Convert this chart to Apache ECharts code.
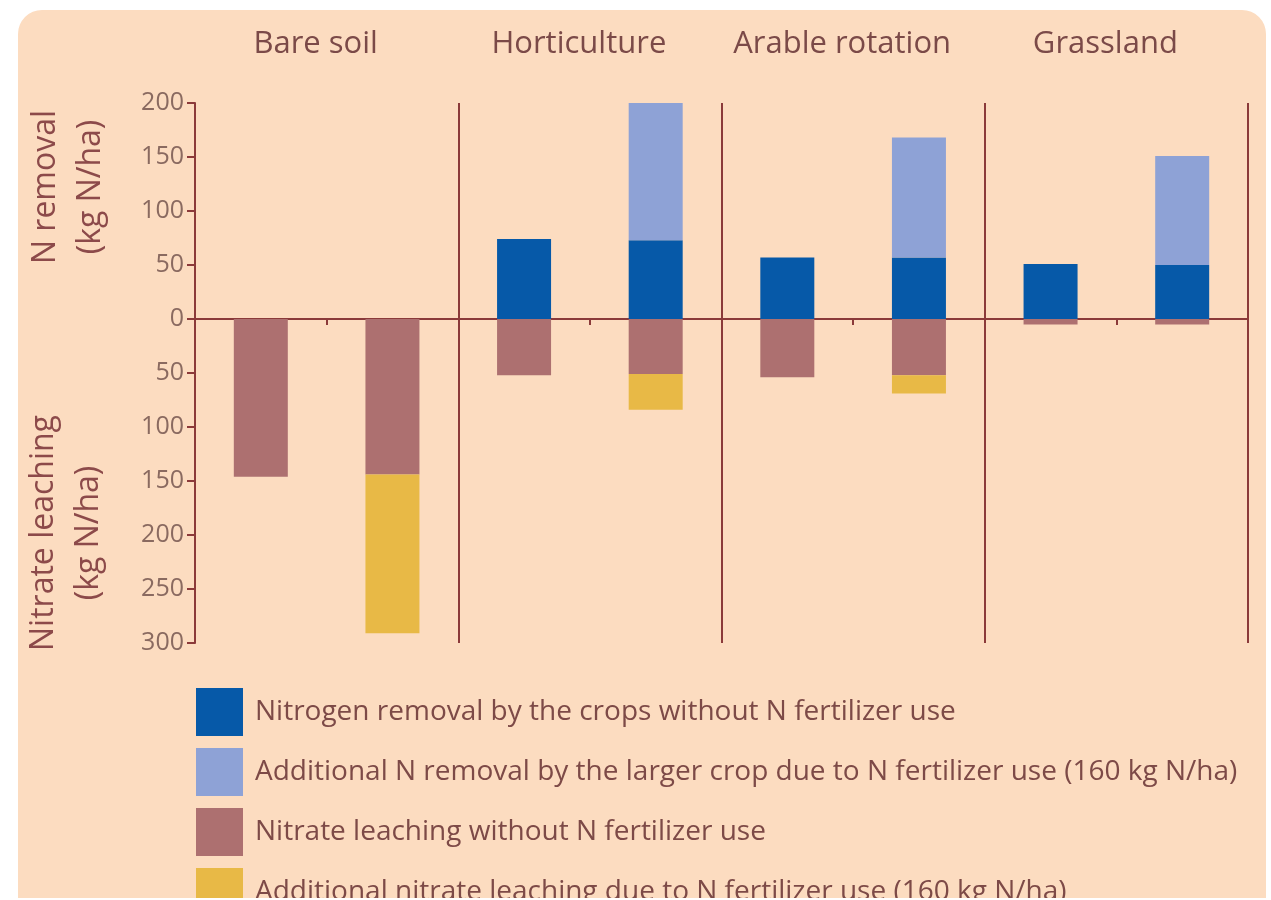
<!DOCTYPE html>
<html>
<head>
<meta charset="utf-8">
<script src="https://cdn.jsdelivr.net/npm/echarts@6/dist/echarts.min.js"></script>
<style>
  html, body { margin: 0; padding: 0; background: #ffffff; }
  #box {
    position: absolute;
    left: 18px;
    top: 10px;
    width: 1248px;
    height: 888px;
    overflow: hidden;
    border-radius: 24px 24px 0 0;
    background: #fcdcc0;
  }
  #chart { width: 1248px; height: 960px; }
</style>
</head>
<body>
<div id="box"><div id="chart"></div></div>
<script>
// 8 bars: two per land use (without / with N fertilizer)
const categories = ["bs1", "bs2", "ho1", "ho2", "ar1", "ar2", "gr1", "gr2"];
const groups = ["Bare soil", "Horticulture", "Arable rotation", "Grassland"];

// N removal (positive)
const removalBase = [0, 0, 74, 73, 57, 57, 51, 50];
const removalExtra = [0, 0, 0, 129, 0, 111, 0, 101];
// nitrate leaching (drawn downward)
const leachingBase = [-146, -144, -52, -51, -54, -52, -5, -5];
const leachingExtra = [0, -147, 0, -33, 0, -17, 0, 0];

const seriesNames = [
  "Nitrogen removal by the crops without N fertilizer use",
  "Additional N removal by the larger crop due to N fertilizer use (160 kg N/ha)",
  "Nitrate leaching without N fertilizer use",
  "Additional nitrate leaching due to N fertilizer use (160 kg N/ha)"
];
const seriesColors = ["#0659a8", "#8ea2d6", "#ad7070", "#e8b946"];

const axisColor = "#8b3a3a";
const font = "'Open Sans', sans-serif";

let chart = echarts.init(document.getElementById("chart"));

function bar(i, data) {
  return {
    name: seriesNames[i],
    type: "bar",
    stack: "all",
    stackStrategy: "samesign",
    barWidth: 54,
    itemStyle: { color: seriesColors[i] },
    data: data
  };
}

let option = {
  animation: false,
  backgroundColor: "transparent",
  textStyle: { fontFamily: font },
  grid: { left: 177, right: 18, top: 93, height: 540 },
  legend: {
    orient: "vertical",
    left: 173,
    top: 673,
    height: 280,
    itemWidth: 47,
    itemHeight: 48,
    itemGap: 12,
    icon: "rect",
    selectedMode: false,
    textStyle: { color: "#7d4a47", fontSize: 28, padding: [0, 0, 0, 7], fontFamily: font },
    data: seriesNames
  },
  xAxis: [
    {
      type: "category",
      data: categories,
      axisLine: { onZero: true, lineStyle: { color: axisColor, width: 2 } },
      axisTick: {
        show: true,
        length: 6,
        lineStyle: { color: axisColor, width: 2 },
        interval: function (i) { return i % 2 === 1 || i === 8; }
      },
      axisLabel: { show: false },
      splitLine: {
        show: true,
        lineStyle: { color: axisColor, width: 2 },
        interval: function (i) { return i > 0 && i < 8 && i % 2 === 0; }
      }
    },
    {
      type: "category",
      position: "top",
      data: groups,
      axisLine: { show: false },
      axisTick: { show: false },
      axisLabel: {
        interval: 0,
        color: "#7b4a48",
        fontSize: 31,
        margin: 43,
        padding: [0, 22, 0, 0],
        fontFamily: font
      }
    }
  ],
  yAxis: {
    type: "value",
    min: -300,
    max: 200,
    interval: 50,
    axisLine: { show: true, lineStyle: { color: axisColor, width: 2 } },
    axisTick: { show: true, length: 8, lineStyle: { color: axisColor, width: 2 } },
    splitLine: { show: false },
    axisLabel: {
      color: "#8a6a60",
      fontSize: 25,
      margin: 11,
      fontFamily: font,
      formatter: function (v) { return Math.abs(v); }
    }
  },
  graphic: [
    {
      type: "text",
      x: 50,
      y: 177,
      rotation: Math.PI / 2,
      style: {
        text: "N removal\n(kg N/ha)",
        fill: "#8c4a4a",
        font: "32px " + font,
        align: "center",
        verticalAlign: "middle",
        lineHeight: 45
      }
    },
    {
      type: "text",
      x: 48,
      y: 523,
      rotation: Math.PI / 2,
      style: {
        text: "Nitrate leaching\n(kg N/ha)",
        fill: "#8c4a4a",
        font: "32px " + font,
        align: "center",
        verticalAlign: "middle",
        lineHeight: 45
      }
    }
  ],
  series: [
    bar(0, removalBase),
    bar(1, removalExtra),
    bar(2, leachingBase),
    bar(3, leachingExtra)
  ]
};
chart.setOption(option);
</script>
</body>
</html>
